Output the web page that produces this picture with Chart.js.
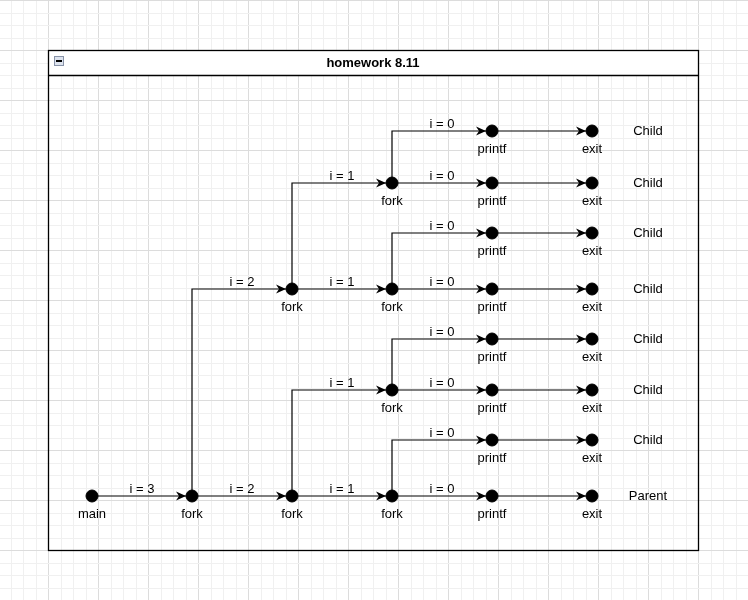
<!DOCTYPE html>
<html>
<head>
<title>homework 8.11</title>
<script src="https://cdn.jsdelivr.net/npm/chart.js"></script>
<style>
  body { margin: 0; background: #fff; }
  canvas { display: block; }
</style>
</head>
<body>
<canvas id="myChart" width="748" height="600"></canvas>
<script>
// nodes of the process graph
const nodeX = [92, 192, 292, 292, 392, 392, 392, 392,
               492, 492, 492, 492, 492, 492, 492, 492,
               592, 592, 592, 592, 592, 592, 592, 592];
const nodeY = [496, 496, 289, 496, 183, 289, 390, 496,
               131, 183, 233, 289, 339, 390, 440, 496,
               131, 183, 233, 289, 339, 390, 440, 496];
const nodeLabels = ['main', 'fork', 'fork', 'fork', 'fork', 'fork', 'fork', 'fork',
                    'printf', 'printf', 'printf', 'printf', 'printf', 'printf', 'printf', 'printf',
                    'exit', 'exit', 'exit', 'exit', 'exit', 'exit', 'exit', 'exit'];
// edges: from, to, label
const edgeFrom = [0, 1, 1, 3, 3, 2, 2, 4, 4, 5, 5, 6, 6, 7, 7, 8, 9, 10, 11, 12, 13, 14, 15];
const edgeTo   = [1, 3, 2, 7, 6, 5, 4, 9, 8, 11, 10, 13, 12, 15, 14, 16, 17, 18, 19, 20, 21, 22, 23];
const edgeText = ['i = 3', 'i = 2', 'i = 2', 'i = 1', 'i = 1', 'i = 1', 'i = 1',
                  'i = 0', 'i = 0', 'i = 0', 'i = 0', 'i = 0', 'i = 0', 'i = 0', 'i = 0',
                  '', '', '', '', '', '', '', ''];
const rowNames = ['Child', 'Child', 'Child', 'Child', 'Child', 'Child', 'Child', 'Parent'];
const rowY = [131, 183, 233, 289, 339, 390, 440, 496];
const title = 'homework 8.11';

function edgePath(i) {
  const a = edgeFrom[i], b = edgeTo[i];
  const pts = [{x: nodeX[a], y: nodeY[a]}];
  if (nodeY[a] !== nodeY[b]) pts.push({x: nodeX[a], y: nodeY[b]});
  pts.push({x: nodeX[b], y: nodeY[b]});
  return pts;
}

const datasets = [{
  label: 'nodes',
  data: nodeX.map((x, i) => ({x: x, y: nodeY[i]})),
  pointRadius: 6,
  pointBackgroundColor: '#000',
  pointBorderColor: '#000',
  showLine: false,
  order: 0
}];
edgeFrom.forEach((f, i) => {
  datasets.push({
    label: 'edge' + i,
    data: edgePath(i),
    showLine: true,
    borderColor: '#000',
    borderWidth: 1.2,
    pointRadius: 0,
    order: 1
  });
});

const diagramPlugin = {
  id: 'diagram',
  beforeDraw(chart) {
    const c = chart.ctx, sx = chart.scales.x, sy = chart.scales.y;
    c.save();
    c.fillStyle = '#fff';
    c.fillRect(0, 0, chart.width, chart.height);
    // grid
    for (let x = -2; x <= 748; x += 12.5) {
      const major = Math.abs(((x - 48) % 50 + 50) % 50) < 0.1;
      c.strokeStyle = major ? '#dcdcdc' : '#f0f0f0';
      c.beginPath(); c.moveTo(Math.round(x) + 0.5, 0); c.lineTo(Math.round(x) + 0.5, 600); c.stroke();
    }
    for (let y = 0; y <= 600; y += 12.5) {
      const major = Math.abs(y % 50) < 0.1;
      c.strokeStyle = major ? '#dcdcdc' : '#f0f0f0';
      c.beginPath(); c.moveTo(0, Math.round(y) + 0.5); c.lineTo(748, Math.round(y) + 0.5); c.stroke();
    }
    // frame
    const l = sx.getPixelForValue(48), r = sx.getPixelForValue(698);
    const t = sy.getPixelForValue(50), b = sy.getPixelForValue(550), h = sy.getPixelForValue(75);
    c.fillStyle = '#fff';
    c.fillRect(l, t, r - l, h - t);
    c.strokeStyle = '#000'; c.lineWidth = 1.3;
    c.strokeRect(l + 0.5, t + 0.5, r - l, b - t);
    c.beginPath(); c.moveTo(l, h + 0.5); c.lineTo(r, h + 0.5); c.stroke();
    // collapse icon
    c.fillStyle = '#dde3ee'; c.strokeStyle = '#8893a8'; c.lineWidth = 1;
    c.fillRect(54, 56, 10, 10); c.strokeRect(54.5, 56.5, 9, 9);
    c.fillStyle = '#000'; c.fillRect(56, 60, 6, 2);
    c.fillStyle = '#000';
    c.font = 'bold 13px "Liberation Sans", Arial';
    c.textAlign = 'center'; c.textBaseline = 'middle';
    c.fillText(title, (l + r) / 2, (t + h) / 2 + 1);
    c.restore();
  },
  afterDatasetsDraw(chart) {
    const c = chart.ctx, sx = chart.scales.x, sy = chart.scales.y;
    c.save();
    c.fillStyle = '#000';
    c.font = '13px "Liberation Sans", Arial';
    c.textAlign = 'center';
    edgeFrom.forEach((f, i) => {
      const pts = edgePath(i);
      const p1 = pts[pts.length - 2], p2 = pts[pts.length - 1];
      const x1 = sx.getPixelForValue(p1.x), x2 = sx.getPixelForValue(p2.x), y = sy.getPixelForValue(p2.y);
      // arrowhead
      const tip = x2 - 6;
      c.beginPath();
      c.moveTo(tip, y); c.lineTo(tip - 10, y - 4.5); c.lineTo(tip - 7, y); c.lineTo(tip - 10, y + 4.5);
      c.closePath(); c.fill();
      if (edgeText[i]) {
        c.textBaseline = 'alphabetic';
        c.fillText(edgeText[i], (x1 + x2) / 2, y - 3);
      }
    });
    c.textBaseline = 'top';
    nodeLabels.forEach((t, i) => {
      c.fillText(t, sx.getPixelForValue(nodeX[i]), sy.getPixelForValue(nodeY[i]) + 12);
    });
    c.textBaseline = 'middle';
    rowNames.forEach((t, i) => {
      c.fillText(t, sx.getPixelForValue(648), sy.getPixelForValue(rowY[i]));
    });
    c.restore();
  }
};

new Chart(document.getElementById('myChart'), {
  type: 'scatter',
  data: { datasets: datasets },
  options: {
    responsive: false,
    animation: false,
    layout: { padding: 0, autoPadding: false },
    plugins: { legend: { display: false }, tooltip: { enabled: false } },
    scales: {
      x: { type: 'linear', min: 0, max: 748, display: false },
      y: { type: 'linear', min: 0, max: 600, reverse: true, display: false }
    }
  },
  plugins: [diagramPlugin]
});
</script>
</body>
</html>
